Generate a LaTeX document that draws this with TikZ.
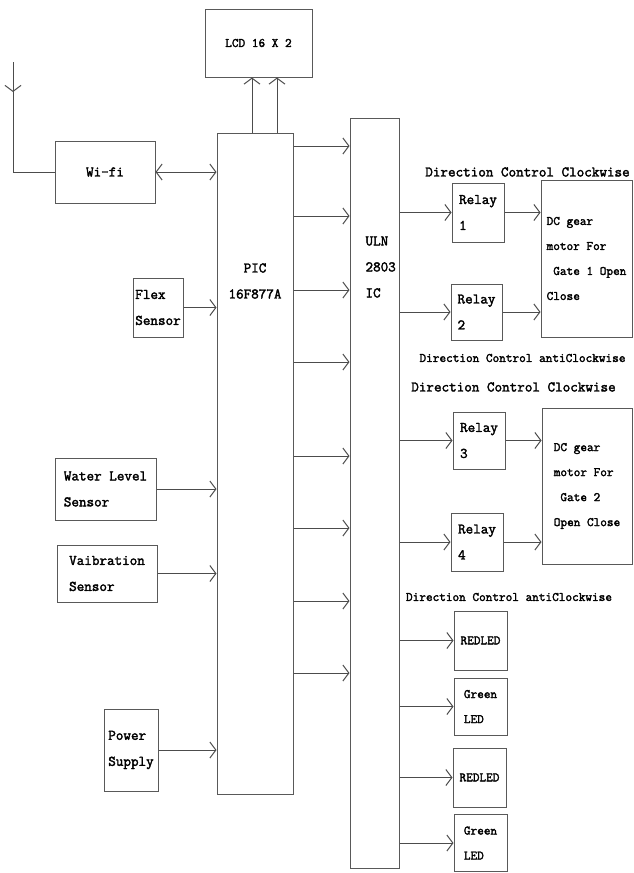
\documentclass[tikz,border=0pt]{standalone}
\usepackage{fontspec}
\setmonofont{Latin Modern Mono}[AutoFakeBold=2.2]
\usetikzlibrary{arrows.meta}
\newcommand{\mainsz}{\fontsize{14.7}{26}\selectfont\ttfamily\bfseries}
\newcommand{\subsz}{\fontsize{12.9}{25}\selectfont\ttfamily\bfseries}
\tikzset{
  box/.style={draw=black!65, line width=1pt, inner sep=0pt, align=left, font=\mainsz},
  wire/.style={draw=black!70, line width=1pt},
}

\begin{document}
\begin{tikzpicture}[x=1pt, y=-1pt, >={Straight Barb[length=6pt,width=16pt]}]
\useasboundingbox (0,0) rectangle (634,873);
% Display and controller
\node[box, minimum width=107, minimum height=68, font=\subsz] (lcd) at (258.5,43) {LCD 16 X 2};
\node[box, minimum width=76, minimum height=661] (pic) at (255,463.5) {};
\node[font=\mainsz, align=center] (pictxt) at (255,281) {PIC\\16F877A};
\node[box, minimum width=49, minimum height=750] (uln) at (374.5,493) {};
\node[font=\mainsz, align=left, anchor=west] (ulntxt) at (362,267) {ULN\\2803\\IC};
% Inputs
\node[box, minimum width=100, minimum height=62] (wifi) at (105,172) {Wi-fi};
\node[box, minimum width=50, minimum height=59] (flex) at (158,307.5) {Flex\\Sensor};
\node[box, minimum width=101, minimum height=62] (water) at (105.5,489) {Water Level\\Sensor};
\node[box, minimum width=100, minimum height=57] (vib) at (107,573.5) {Vaibration\\Sensor};
\node[box, minimum width=54, minimum height=82] (power) at (131,750) {Power\\Supply};
\coordinate (ant) at (13,62);
% Gate 1
\node[font=\mainsz] (dir1) at (527.5,172) {Direction Control Clockwise};
\node[box, minimum width=52, minimum height=59] (r1) at (478,212.5) {Relay\\1};
\node[box, minimum width=51, minimum height=56] (r2) at (476.5,312) {Relay\\2};
\node[box, minimum width=91, minimum height=157, font=\subsz] (m1) at (586.5,258.5) {DC gear\\motor For\\~Gate 1 Open\\Close};
\node[font=\subsz] (dir2) at (522.5,358) {Direction Control antiClockwise};
% Gate 2
\node[font=\mainsz] (dir3) at (513.5,387) {Direction Control Clockwise};
\node[box, minimum width=52, minimum height=57] (r3) at (479,440.5) {Relay\\3};
\node[box, minimum width=52, minimum height=58] (r4) at (477,542) {Relay\\4};
\node[box, minimum width=90, minimum height=156, font=\subsz] (m2) at (587,486) {DC gear\\motor For\\~Gate 2\\Open Close};
\node[font=\subsz] (dir4) at (509,597) {Direction Control antiClockwise};
% LEDs
\node[box, minimum width=53, minimum height=59, font=\subsz] (led1) at (480.5,640.5) {REDLED};
\node[box, minimum width=53, minimum height=57, font=\subsz] (led2) at (480.5,706.5) {Green\\LED};
\node[box, minimum width=53, minimum height=59, font=\subsz] (led3) at (479.5,777.5) {REDLED};
\node[box, minimum width=53, minimum height=57, font=\subsz] (led4) at (480.5,843) {Green\\LED};

% Connections
\draw[wire,->] (ant) -- ++(0,30);
\draw[wire] (ant) |- (wifi.west);
\draw[wire,<->] (wifi) -- (wifi -| pic.west);
\foreach \n in {flex,water,vib,power}
  \draw[wire,->] (\n) -- (\n -| pic.west);
\foreach \x in {252,277}
  \draw[wire,->] (pic.north -| \x,0) -- (lcd.south -| \x,0);
\foreach \y in {146,216,290,362,456,528,601,673}
  \draw[wire,->] (pic.east |- 0,\y) -- (uln.west |- 0,\y);
\foreach \n in {r1,r2,r3,r4,led1,led2,led3,led4}
  \draw[wire,->] (uln.east |- \n) -- (\n);
\draw[wire,->] (r1) -- (r1 -| m1.west);
\draw[wire,->] (r2) -- (r2 -| m1.west);
\draw[wire,->] (r3) -- (r3 -| m2.west);
\draw[wire,->] (r4) -- (r4 -| m2.west);
\end{tikzpicture}
\end{document}
